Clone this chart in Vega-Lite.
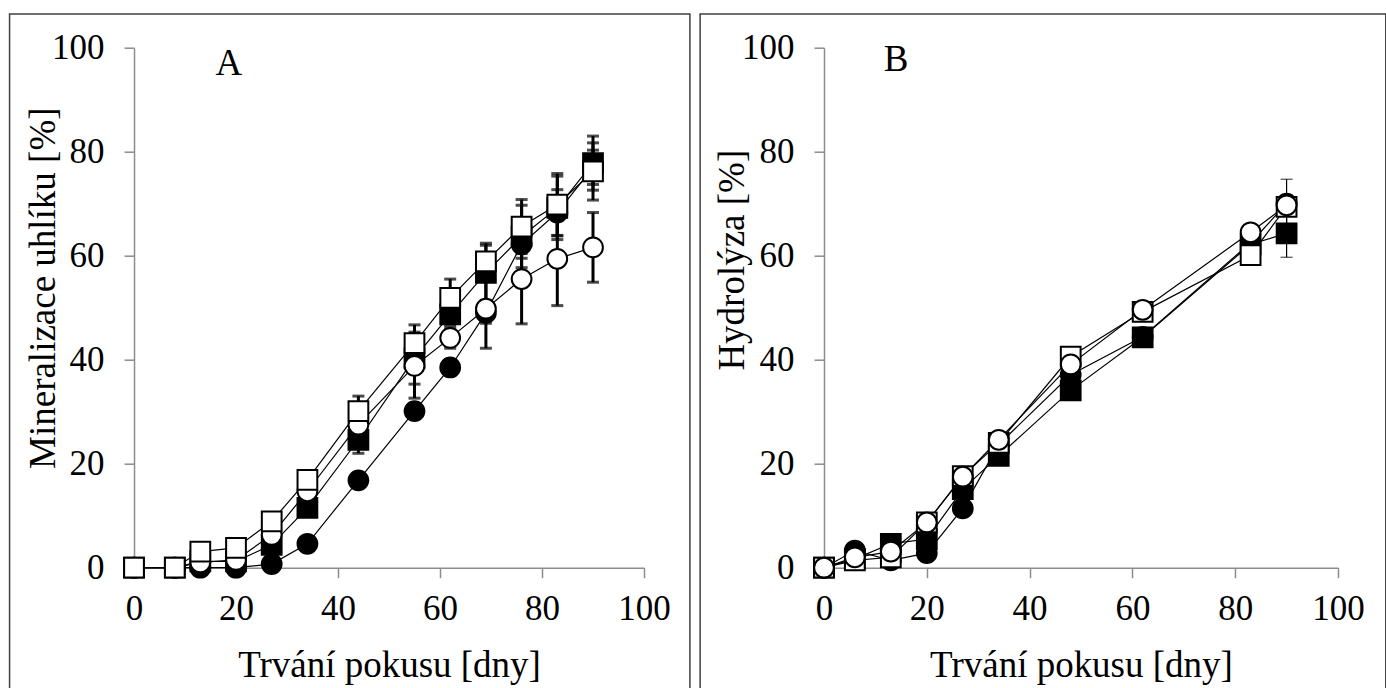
{
  "$schema": "https://vega.github.io/schema/vega-lite/v6.json",
  "padding": {"left": 8, "top": 12.7, "right": 0, "bottom": 0},
  "spacing": 8,
  "config": {
    "font": "Liberation Serif",
    "view": {"stroke": null},
    "axis": {
      "grid": false,
      "domainColor": "#8c8c8c",
      "tickColor": "#8c8c8c",
      "domainWidth": 1.5,
      "tickWidth": 1.5,
      "tickSize": 10,
      "labelFont": "Liberation Serif",
      "labelFontSize": 35,
      "labelColor": "black",
      "labelFlush": false,
      "labelOverlap": false,
      "titleFont": "Liberation Serif",
      "titleFontSize": 37,
      "titleFontWeight": "normal",
      "titleColor": "black"
    },
    "axisX": {"labelPadding": 14, "titleY": 98, "titleBaseline": "middle"},
    "axisY": {"labelPadding": 20, "titleX": -91, "titleBaseline": "middle"}
  },
  "datasets": {
    "a": [
      {"series": "fc", "day": 0, "value": 0, "sd": 0},
      {"series": "fc", "day": 8, "value": 0, "sd": 0},
      {"series": "fc", "day": 13, "value": 0, "sd": 0},
      {"series": "fc", "day": 20, "value": 0, "sd": 0},
      {"series": "fc", "day": 27, "value": 0.7, "sd": 0},
      {"series": "fc", "day": 34, "value": 4.6, "sd": 0},
      {"series": "fc", "day": 44, "value": 16.8, "sd": 0},
      {"series": "fc", "day": 55, "value": 30.1, "sd": 0},
      {"series": "fc", "day": 62, "value": 38.5, "sd": 1.5},
      {"series": "fc", "day": 69, "value": 49, "sd": 2},
      {"series": "fc", "day": 76, "value": 62.2, "sd": 2.7},
      {"series": "fc", "day": 83, "value": 68.3, "sd": 4.4},
      {"series": "fc", "day": 90, "value": 77, "sd": 3.3},
      {"series": "fs", "day": 0, "value": 0, "sd": 0},
      {"series": "fs", "day": 8, "value": 0, "sd": 0},
      {"series": "fs", "day": 13, "value": 1.2, "sd": 0},
      {"series": "fs", "day": 20, "value": 1.2, "sd": 0},
      {"series": "fs", "day": 27, "value": 4.4, "sd": 0},
      {"series": "fs", "day": 34, "value": 11.5, "sd": 0},
      {"series": "fs", "day": 44, "value": 24.6, "sd": 2.6},
      {"series": "fs", "day": 55, "value": 40.3, "sd": 5},
      {"series": "fs", "day": 62, "value": 48.7, "sd": 2},
      {"series": "fs", "day": 69, "value": 56.7, "sd": 5.3},
      {"series": "fs", "day": 76, "value": 63.7, "sd": 6},
      {"series": "fs", "day": 83, "value": 69.2, "sd": 6.1},
      {"series": "fs", "day": 90, "value": 77.8, "sd": 5.2},
      {"series": "oc", "day": 0, "value": 0, "sd": 0},
      {"series": "oc", "day": 8, "value": 0, "sd": 0},
      {"series": "oc", "day": 13, "value": 1, "sd": 0},
      {"series": "oc", "day": 20, "value": 1.5, "sd": 0},
      {"series": "oc", "day": 27, "value": 6.3, "sd": 0},
      {"series": "oc", "day": 34, "value": 14.7, "sd": 0},
      {"series": "oc", "day": 44, "value": 27.5, "sd": 1},
      {"series": "oc", "day": 55, "value": 38.8, "sd": 6.2},
      {"series": "oc", "day": 62, "value": 44.2, "sd": 2},
      {"series": "oc", "day": 69, "value": 49.8, "sd": 7.6},
      {"series": "oc", "day": 76, "value": 55.5, "sd": 8.6},
      {"series": "oc", "day": 83, "value": 59.4, "sd": 9},
      {"series": "oc", "day": 90, "value": 61.6, "sd": 6.7},
      {"series": "os", "day": 0, "value": 0, "sd": 0},
      {"series": "os", "day": 8, "value": 0, "sd": 0},
      {"series": "os", "day": 13, "value": 3.1, "sd": 0},
      {"series": "os", "day": 20, "value": 3.8, "sd": 0},
      {"series": "os", "day": 27, "value": 8.9, "sd": 0},
      {"series": "os", "day": 34, "value": 16.9, "sd": 0.5},
      {"series": "os", "day": 44, "value": 30.1, "sd": 2.9},
      {"series": "os", "day": 55, "value": 43.2, "sd": 3.5},
      {"series": "os", "day": 62, "value": 51.9, "sd": 3.6},
      {"series": "os", "day": 69, "value": 58.9, "sd": 3.5},
      {"series": "os", "day": 76, "value": 65.6, "sd": 5.2},
      {"series": "os", "day": 83, "value": 69.8, "sd": 6},
      {"series": "os", "day": 90, "value": 76.2, "sd": 5.5}
    ],
    "b": [
      {"series": "fs", "day": 0, "value": 0, "sd": 0},
      {"series": "fs", "day": 6, "value": 1.7, "sd": 0},
      {"series": "fs", "day": 13, "value": 4.6, "sd": 0},
      {"series": "fs", "day": 20, "value": 5.5, "sd": 0},
      {"series": "fs", "day": 27, "value": 15.1, "sd": 0},
      {"series": "fs", "day": 34, "value": 21.5, "sd": 0},
      {"series": "fs", "day": 48, "value": 34.1, "sd": 0},
      {"series": "fs", "day": 62, "value": 44.3, "sd": 0},
      {"series": "fs", "day": 83, "value": 62.2, "sd": 0},
      {"series": "fs", "day": 90, "value": 64.3, "sd": 4.6},
      {"series": "fc", "day": 0, "value": 0, "sd": 0},
      {"series": "fc", "day": 6, "value": 3.3, "sd": 0},
      {"series": "fc", "day": 13, "value": 1.4, "sd": 0},
      {"series": "fc", "day": 20, "value": 2.8, "sd": 0},
      {"series": "fc", "day": 27, "value": 11.4, "sd": 0},
      {"series": "fc", "day": 34, "value": 23.7, "sd": 0},
      {"series": "fc", "day": 48, "value": 37.1, "sd": 0},
      {"series": "fc", "day": 62, "value": 44.4, "sd": 0},
      {"series": "fc", "day": 83, "value": 62.5, "sd": 0},
      {"series": "fc", "day": 90, "value": 70, "sd": 0},
      {"series": "os", "day": 0, "value": 0, "sd": 0},
      {"series": "os", "day": 6, "value": 1.4, "sd": 0},
      {"series": "os", "day": 13, "value": 2, "sd": 0},
      {"series": "os", "day": 20, "value": 8.7, "sd": 0},
      {"series": "os", "day": 27, "value": 17.6, "sd": 0},
      {"series": "os", "day": 34, "value": 24, "sd": 0},
      {"series": "os", "day": 48, "value": 40.6, "sd": 0},
      {"series": "os", "day": 62, "value": 49.2, "sd": 0},
      {"series": "os", "day": 83, "value": 60.1, "sd": 0},
      {"series": "os", "day": 90, "value": 69.4, "sd": 0},
      {"series": "oc", "day": 0, "value": 0, "sd": 0},
      {"series": "oc", "day": 6, "value": 2, "sd": 0},
      {"series": "oc", "day": 13, "value": 3.1, "sd": 0},
      {"series": "oc", "day": 20, "value": 8.7, "sd": 0},
      {"series": "oc", "day": 27, "value": 17.5, "sd": 0},
      {"series": "oc", "day": 34, "value": 24.6, "sd": 0},
      {"series": "oc", "day": 48, "value": 39.1, "sd": 0},
      {"series": "oc", "day": 62, "value": 49.6, "sd": 0},
      {"series": "oc", "day": 83, "value": 64.5, "sd": 0},
      {"series": "oc", "day": 90, "value": 69.7, "sd": 5}
    ]
  },
  "hconcat": [
    {
      "width": 510,
      "height": 520,
      "data": {"name": "a"},
      "layer": [
        {
          "data": {"values": [{"panel": "A"}]},
          "mark": {"type": "rect", "fill": null, "stroke": "#404040", "strokeWidth": 1.5, "clip": false},
          "encoding": {
            "x": {"datum": -24.4, "type": "quantitative", "title": "Trvání pokusu [dny]"},
            "x2": {"datum": 109.0},
            "y": {"datum": 106.5, "type": "quantitative", "title": "Mineralizace uhlíku [%]"},
            "y2": {"datum": -30}
          }
        },
        {
          "mark": {"type": "line", "color": "black", "strokeWidth": 1.2},
          "encoding": {
            "x": {"field": "day", "type": "quantitative", "title": "Trvání pokusu [dny]",
              "scale": {"domain": [0, 100], "nice": false},
              "axis": {"values": [0, 20, 40, 60, 80, 100]}},
            "y": {"field": "value", "type": "quantitative", "title": "Mineralizace uhlíku [%]",
              "scale": {"domain": [0, 100], "nice": false},
              "axis": {"values": [0, 20, 40, 60, 80, 100], "titleY": 240}},
            "detail": {"field": "series"}
          }
        },
        {
          "transform": [{"filter": "datum.sd > 0"}],
          "mark": {"type": "errorbar", "color": "black", "thickness": 3, "ticks": {"size": 12, "thickness": 3, "color": "black"}},
          "encoding": {
            "x": {"field": "day", "type": "quantitative", "title": "Trvání pokusu [dny]"},
            "y": {"field": "value", "type": "quantitative", "title": "Mineralizace uhlíku [%]"},
            "yError": {"field": "sd"},
            "detail": {"field": "series"}
          }
        },
        {
          "mark": {"type": "point", "filled": true, "opacity": 1, "stroke": "black", "strokeWidth": 2, "size": 390},
          "encoding": {
            "x": {"field": "day", "type": "quantitative", "title": "Trvání pokusu [dny]"},
            "y": {"field": "value", "type": "quantitative", "title": "Mineralizace uhlíku [%]"},
            "shape": {"field": "series", "type": "nominal", "legend": null,
              "scale": {"domain": ["fc", "oc", "fs", "os"], "range": ["circle", "circle", "square", "square"]}},
            "color": {"field": "series", "type": "nominal", "legend": null,
              "scale": {"domain": ["fc", "oc", "fs", "os"], "range": ["black", "white", "black", "white"]}}
          }
        },
        {
          "data": {"values": [{"panel": "A"}]},
          "mark": {"type": "text", "font": "Liberation Serif", "fontWeight": "normal", "fontSize": 37, "color": "black", "align": "center", "baseline": "middle"},
          "encoding": {
            "text": {"field": "panel"},
            "x": {"datum": 18.6, "type": "quantitative", "title": "Trvání pokusu [dny]"},
            "y": {"datum": 96.9, "type": "quantitative", "title": "Mineralizace uhlíku [%]"}
          }
        }
      ]
    },
    {
      "width": 514,
      "height": 520,
      "data": {"name": "b"},
      "layer": [
        {
          "data": {"values": [{"panel": "B"}]},
          "mark": {"type": "rect", "fill": null, "stroke": "#404040", "strokeWidth": 1.5, "clip": false},
          "encoding": {
            "x": {"datum": -24.1, "type": "quantitative", "title": "Trvání pokusu [dny]"},
            "x2": {"datum": 109.3},
            "y": {"datum": 106.5, "type": "quantitative", "title": "Hydrolýza [%]"},
            "y2": {"datum": -30}
          }
        },
        {
          "mark": {"type": "line", "color": "black", "strokeWidth": 1.2},
          "encoding": {
            "x": {"field": "day", "type": "quantitative", "title": "Trvání pokusu [dny]",
              "scale": {"domain": [0, 100], "nice": false},
              "axis": {"values": [0, 20, 40, 60, 80, 100]}},
            "y": {"field": "value", "type": "quantitative", "title": "Hydrolýza [%]",
              "scale": {"domain": [0, 100], "nice": false},
              "axis": {"values": [0, 20, 40, 60, 80, 100], "titleY": 212}},
            "detail": {"field": "series"}
          }
        },
        {
          "transform": [{"filter": "datum.sd > 0"}],
          "mark": {"type": "errorbar", "color": "black", "thickness": 1.2, "ticks": {"size": 12, "thickness": 1.2, "color": "black"}},
          "encoding": {
            "x": {"field": "day", "type": "quantitative", "title": "Trvání pokusu [dny]"},
            "y": {"field": "value", "type": "quantitative", "title": "Hydrolýza [%]"},
            "yError": {"field": "sd"},
            "detail": {"field": "series"}
          }
        },
        {
          "mark": {"type": "point", "filled": true, "opacity": 1, "stroke": "black", "strokeWidth": 2, "size": 390},
          "encoding": {
            "x": {"field": "day", "type": "quantitative", "title": "Trvání pokusu [dny]"},
            "y": {"field": "value", "type": "quantitative", "title": "Hydrolýza [%]"},
            "shape": {"field": "series", "type": "nominal", "legend": null,
              "scale": {"domain": ["fc", "oc", "fs", "os"], "range": ["circle", "circle", "square", "square"]}},
            "color": {"field": "series", "type": "nominal", "legend": null,
              "scale": {"domain": ["fc", "oc", "fs", "os"], "range": ["black", "white", "black", "white"]}}
          }
        },
        {
          "data": {"values": [{"panel": "B"}]},
          "mark": {"type": "text", "font": "Liberation Serif", "fontWeight": "normal", "fontSize": 37, "color": "black", "align": "center", "baseline": "middle"},
          "encoding": {
            "text": {"field": "panel"},
            "x": {"datum": 14.0, "type": "quantitative", "title": "Trvání pokusu [dny]"},
            "y": {"datum": 97.7, "type": "quantitative", "title": "Hydrolýza [%]"}
          }
        }
      ]
    }
  ]
}
